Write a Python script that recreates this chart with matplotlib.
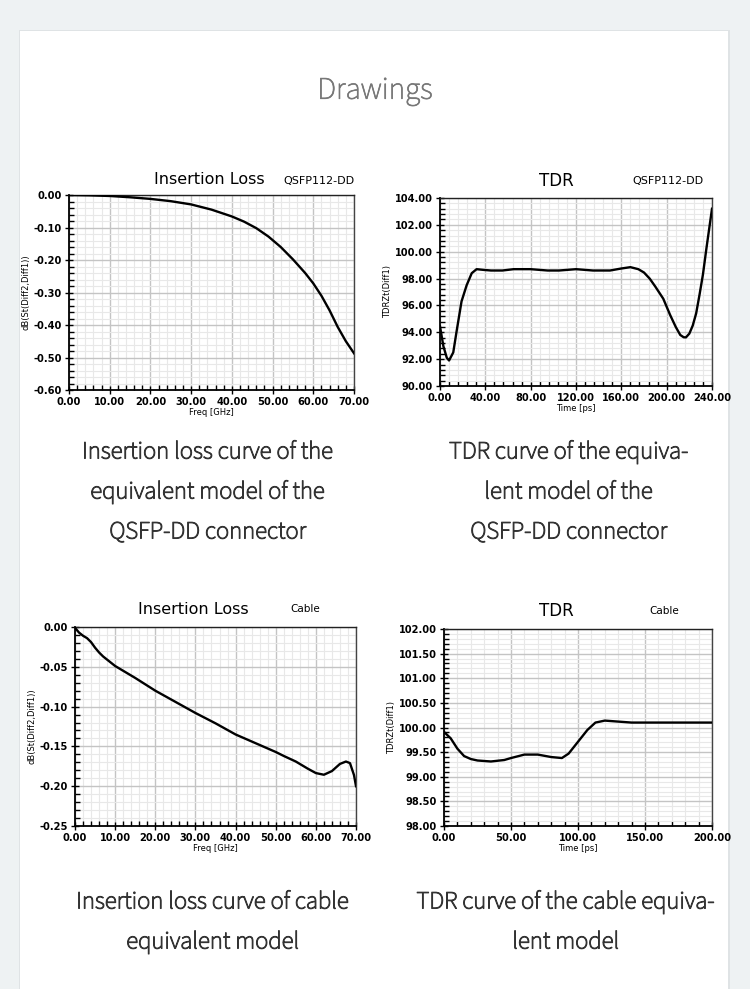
import matplotlib
matplotlib.use("Agg")
import matplotlib.pyplot as plt
from matplotlib.ticker import MultipleLocator, FormatStrFormatter
from matplotlib.patches import Rectangle
from matplotlib import font_manager
import matplotlib.patheffects as pe

plt.rcParams['axes.unicode_minus'] = False

names = {f.name for f in font_manager.fontManager.ttflist}
CAP_FONT = [f for f in ["Source Sans Pro", "Source Sans 3", "Lato", "Noto Sans"] if f in names] + ["DejaVu Sans"]
CH_FONT = ["DejaVu Sans"]
# Source Sans 3 is installed as a variable font that renders ExtraLight; thicken with a stroke
thin = CAP_FONT[0] in ("Source Sans 3",)

# ---------------- data ----------------
il_conn_freq = [0, 5, 10, 15, 20, 25, 30, 35, 40, 43, 46, 49, 52, 55, 58, 60, 62, 64, 66, 68, 70]
il_conn_db = [0.0, -0.001, -0.003, -0.007, -0.012, -0.019, -0.029, -0.045, -0.066, -0.082,
              -0.102, -0.128, -0.160, -0.198, -0.240, -0.272, -0.310, -0.355, -0.406, -0.450, -0.487]

tdr_conn_t = [0, 3, 6, 8, 11.7, 14.7, 19, 23.5, 28, 32.3, 38, 45, 55, 65, 80, 95, 105, 120,
              135, 150, 160, 168, 175, 180, 185, 190, 197, 203, 208, 212, 215, 217, 220,
              223, 226, 229, 232, 235, 238, 240]
tdr_conn_z = [94.44, 92.96, 92.1, 91.9, 92.5, 94.1, 96.3, 97.5, 98.4, 98.7, 98.65, 98.6, 98.6,
              98.7, 98.7, 98.6, 98.6, 98.7, 98.6, 98.6, 98.75, 98.85, 98.7, 98.45, 98.0, 97.4,
              96.5, 95.3, 94.4, 93.8, 93.63, 93.62, 93.9, 94.5, 95.4, 96.8, 98.3, 100.2, 102.0, 103.2]

il_cable_freq = [0, 1, 2, 3, 4, 5, 6, 7, 8, 10, 15, 20, 25, 30, 35, 40, 45, 50, 52, 55, 58, 60, 62,
                 64, 66, 67.5, 68.5, 69.5, 70]
il_cable_db = [-0.001, -0.007, -0.011, -0.014, -0.019, -0.026, -0.032, -0.037, -0.041, -0.049,
               -0.064, -0.080, -0.094, -0.108, -0.121, -0.135, -0.146, -0.157, -0.162, -0.169,
               -0.178, -0.1835, -0.1856, -0.181, -0.172, -0.169, -0.171, -0.186, -0.200]

tdr_cable_t = [0, 5, 10, 15, 20, 25, 35, 45, 50, 60, 70, 80, 88, 93, 100, 107, 113, 120, 130,
               140, 170, 200]
tdr_cable_z = [99.91, 99.78, 99.57, 99.42, 99.36, 99.33, 99.31, 99.34, 99.38, 99.45, 99.45,
               99.40, 99.38, 99.47, 99.71, 99.95, 100.10, 100.14, 100.12, 100.10, 100.10, 100.10]

page_title = "Drawings"
captions = [
    ["Insertion loss curve of the", "equivalent model of the", "QSFP-DD connector"],
    ["TDR curve of the equiva-", "lent model of the", "QSFP-DD connector"],
    ["Insertion loss curve of cable", "equivalent model"],
    ["TDR curve of the cable equiva-", "lent model"],
]

# ---------------- figure ----------------
W, H = 750, 989
fig = plt.figure(figsize=(W / 100, H / 100), dpi=100, facecolor="#eef2f3")

def fx(x):
    return x / W

def fy(y):
    return 1 - y / H

# card
fig.patches.append(Rectangle((fx(19), fy(995)), fx(711), (995 - 30) / H,
                             transform=fig.transFigure, facecolor="#dfe3e5", edgecolor="none", zorder=-20))
fig.patches.append(Rectangle((fx(20), fy(995)), fx(708), (995 - 31) / H,
                             transform=fig.transFigure, facecolor="white", edgecolor="none", zorder=-19))

t = fig.text(fx(375), fy(91), page_title, ha="center", va="center", fontsize=22.5,
             color="#777777", family=CAP_FONT)
if thin:
    t.set_path_effects([pe.withStroke(linewidth=0.5, foreground="#777777")])

def make_axes(l, t, r, b):
    return fig.add_axes([fx(l), fy(b), fx(r - l), (b - t) / H])

def style(ax, xlim, ylim, xmaj, xmin, ymaj, ymin, xlabel, ylabel):
    ax.set_xlim(*xlim)
    ax.set_ylim(*ylim)
    ax.xaxis.set_major_locator(MultipleLocator(xmaj))
    ax.xaxis.set_minor_locator(MultipleLocator(xmin))
    ax.yaxis.set_major_locator(MultipleLocator(ymaj))
    ax.yaxis.set_minor_locator(MultipleLocator(ymin))
    ax.xaxis.set_major_formatter(FormatStrFormatter("%.2f"))
    ax.yaxis.set_major_formatter(FormatStrFormatter("%.2f"))
    ax.grid(True, which="major", color="#c4c4c4", lw=1.0, zorder=1)
    ax.grid(True, which="minor", color="#e8e8e8", lw=0.8, zorder=0)
    ax.set_axisbelow(True)
    ax.tick_params(which="major", direction="inout", length=6, width=1.0, color="black",
                   labelsize=7.1, pad=2)
    ax.tick_params(which="minor", direction="in", length=3.5, width=1.0, color="black")
    for lab in ax.get_xticklabels() + ax.get_yticklabels():
        lab.set_fontweight("bold")
        lab.set_family(CH_FONT)
    for s in ["left", "bottom"]:
        ax.spines[s].set_linewidth(1.3)
        ax.spines[s].set_color("black")
    ax.spines["top"].set_linewidth(1.0)
    ax.spines["top"].set_color("#222222")
    ax.spines["right"].set_linewidth(1.0)
    ax.spines["right"].set_color("#444444")
    ax.set_xlabel(xlabel, fontsize=6, family=CH_FONT, labelpad=1)
    ax.set_ylabel(ylabel, fontsize=6, family=CH_FONT, labelpad=2)

# chart 1
ax1 = make_axes(69, 195, 354, 390)
ax1.plot(il_conn_freq, il_conn_db, color="black", lw=1.7, zorder=3)
style(ax1, (0, 70), (-0.6, 0), 10, 2, 0.1, 0.02, "Freq [GHz]", "dB(St(Diff2,Diff1))")
fig.text(fx(209), fy(180), "Insertion Loss", ha="center", va="center", fontsize=11.5, family=CH_FONT)
fig.text(fx(319), fy(181), "QSFP112-DD", ha="center", va="center", fontsize=8, family=CH_FONT)

# chart 2
ax2 = make_axes(440, 198, 712, 386)
ax2.plot(tdr_conn_t, tdr_conn_z, color="black", lw=1.7, zorder=3)
style(ax2, (0, 240), (90, 104), 40, 8, 2, 0.4, "Time [ps]", "TDRZt(Diff1)")
fig.text(fx(556), fy(181), "TDR", ha="center", va="center", fontsize=12, family=CH_FONT)
fig.text(fx(668), fy(181), "QSFP112-DD", ha="center", va="center", fontsize=8, family=CH_FONT)

# chart 3
ax3 = make_axes(75, 627, 356, 826)
ax3.plot(il_cable_freq, il_cable_db, color="black", lw=1.7, zorder=3)
style(ax3, (0, 70), (-0.25, 0), 10, 2, 0.05, 0.01, "Freq [GHz]", "dB(St(Diff2,Diff1))")
fig.text(fx(193), fy(610), "Insertion Loss", ha="center", va="center", fontsize=11.5, family=CH_FONT)
fig.text(fx(305), fy(609), "Cable", ha="center", va="center", fontsize=7.5, family=CH_FONT)

# chart 4
ax4 = make_axes(444, 629, 712, 826)
ax4.plot(tdr_cable_t, tdr_cable_z, color="black", lw=1.7, zorder=3)
style(ax4, (0, 200), (98, 102), 50, 10, 0.5, 0.1, "Time [ps]", "TDRZt(Diff1)")
fig.text(fx(556), fy(611), "TDR", ha="center", va="center", fontsize=12, family=CH_FONT)
fig.text(fx(664), fy(611), "Cable", ha="center", va="center", fontsize=7.5, family=CH_FONT)

# captions
cap_pos = [(208, 452), (569, 452), (213, 902), (566, 902)]
for (cx, cy), lines in zip(cap_pos, captions):
    for i, line in enumerate(lines):
        c = fig.text(fx(cx), fy(cy + 40 * i), line, ha="center", va="center", fontsize=17.8,
                     color="#333333", family=CAP_FONT)
        if thin:
            c.set_path_effects([pe.withStroke(linewidth=0.75, foreground="#333333")])

fig.savefig("out.png", dpi=100, facecolor=fig.get_facecolor())
